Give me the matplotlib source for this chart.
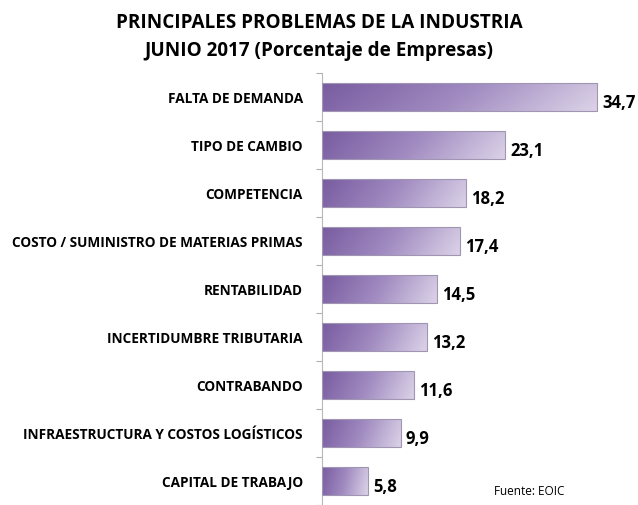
import numpy as np
import matplotlib
matplotlib.use("Agg")
import matplotlib.pyplot as plt
from matplotlib.colors import LinearSegmentedColormap

# ========== 数据 ==========
categories = [
    "FALTA DE DEMANDA",
    "TIPO DE CAMBIO",
    "COMPETENCIA",
    "COSTO / SUMINISTRO DE MATERIAS PRIMAS",
    "RENTABILIDAD",
    "INCERTIDUMBRE TRIBUTARIA",
    "CONTRABANDO",
    "INFRAESTRUCTURA Y COSTOS LOGÍSTICOS",
    "CAPITAL DE TRABAJO",
]
values = [34.7, 23.1, 18.2, 17.4, 14.5, 13.2, 11.6, 9.9, 5.8]
value_labels = ["34,7", "23,1", "18,2", "17,4", "14,5", "13,2", "11,6", "9,9", "5,8"]

plt.rcParams["font.family"] = ["Open Sans", "DejaVu Sans"]

fig = plt.figure(figsize=(6.38, 5.06), dpi=100)
ax = fig.add_axes([0.505, 0.0, 0.495, 0.854])

y = np.arange(len(categories))
bar_h = 0.57
bars = ax.barh(y, values, height=bar_h, color="none", edgecolor="#a095b3",
               linewidth=0.8, zorder=3)

# 渐变：左深紫 -> 右浅紫，底部略深
cmap = LinearSegmentedColormap.from_list("lila", ["#785ca0", "#a08ac0", "#d9d0e6"])
gx = np.linspace(0, 1, 200)
gy = np.linspace(0, 1, 30)
GX, GY = np.meshgrid(gx, gy)
for b in bars:
    x0, y0 = b.get_x(), b.get_y()
    w, h = b.get_width(), b.get_height()
    grad = np.clip(GX * 0.9 + 0.12 - 0.12 * GY, 0, 1)
    im = ax.imshow(grad, cmap=cmap, vmin=0, vmax=1, aspect="auto",
                   extent=(x0, x0 + w, y0, y0 + h), origin="upper", zorder=2)
    im.set_clip_path(b)

for yi, v, lab in zip(y, values, value_labels):
    ax.text(v + 0.6, yi + 0.1, lab, va="center", ha="left",
            fontsize=12, fontweight="bold", color="black")

ax.set_xlim(0, 39.85)
ax.set_ylim(len(categories) - 0.5, -0.5)
ax.set_yticks(y)
ax.set_yticklabels(categories, fontsize=9.8, fontweight="bold")
ax.set_yticks(np.arange(len(categories) + 1) - 0.5, minor=True)
ax.tick_params(axis="y", which="major", length=0, pad=14)
ax.tick_params(axis="y", which="minor", length=4, width=0.8, color="#b0b0b0")
ax.set_xticks([])
for s in ax.spines.values():
    s.set_visible(False)
ax.spines["left"].set_visible(True)
ax.spines["left"].set_color("#b8b8b8")
ax.spines["left"].set_linewidth(0.8)

fig.text(0.5, 0.955, "PRINCIPALES PROBLEMAS DE LA INDUSTRIA", ha="center",
         va="center", fontsize=13.6, fontweight="bold")
fig.text(0.5, 0.900, "JUNIO 2017 (Porcentaje de Empresas)", ha="center",
         va="center", fontsize=13.6, fontweight="bold")
fig.text(0.775, 0.028, "Fuente: EOIC", ha="left", va="center", fontsize=8.5)

fig.savefig("out.png", dpi=100)
